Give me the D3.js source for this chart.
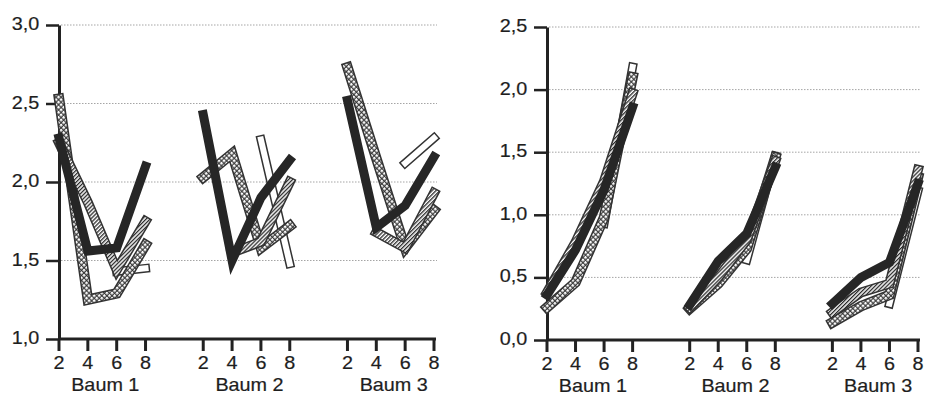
<!DOCTYPE html>
<html>
<head>
<meta charset="utf-8">
<script src="https://d3js.org/d3.v7.min.js"></script>
<style>
body{margin:0;background:#fff;}
text{font-family:"Liberation Sans",Arial,sans-serif;fill:#1e1e1e;stroke:#1e1e1e;stroke-width:0.2px;}
</style>
</head>
<body>
<div id="chart"></div>
<script>
// categories
var groups = ["Baum 1", "Baum 2", "Baum 3"];
var xValues = [2, 4, 6, 8];

// left panel (3 x 4 values per series, null = not measured)
var leftTicks = [1.0, 1.5, 2.0, 2.5, 3.0];
var leftSolid   = [2.28, 1.56, 1.58, 2.10,  2.43, 1.50, 1.90, 2.14,  2.52, 1.71, 1.85, 2.16];
var leftChecked = [2.53, 1.25, 1.29, 1.60,  2.03, 2.18, 1.58, 1.72,  2.73, 2.15, 1.58, 1.82];
var leftHatched = [2.25, 1.87, 1.44, 1.75,  null, 1.55, 1.62, 2.00,  null, 1.68, 1.58, 1.93];
var leftOpen    = [null, null, 1.43, 1.45,  null, null, 2.27, 1.48,  null, null, 2.12, 2.28];

// right panel
var rightTicks = [0.0, 0.5, 1.0, 1.5, 2.0, 2.5];
var rightSolid   = [0.36, 0.72, 1.20, 1.86,  0.28, 0.63, 0.85, 1.38,  0.29, 0.50, 0.62, 1.25];
var rightChecked = [0.26, 0.46, 0.98, 2.10,  0.25, 0.45, 0.73, 1.46,  0.14, 0.27, 0.36, 1.30];
var rightHatched = [0.38, 0.78, 1.27, 1.97,  0.26, 0.50, 0.80, 1.43,  0.22, 0.38, 0.45, 1.36];
var rightOpen    = [null, null, 0.93, 2.18,  null, null, 0.64, 1.47,  null, null, 0.29, 1.19];

var styles = {
    open:    {outer: 9,    inner: 6,   fill: "#fff"},
    checked: {outer: 10.5, inner: 7.5, fill: "url(#checks)"},
    hatched: {outer: 10,   inner: 7,   fill: "url(#hatch)"},
    solid:   {outer: 9,    inner: 0,   fill: null}
};

function start(){
    var svg = d3.select("#chart").append("svg")
                .attr("width", 929)
                .attr("height", 407);
    svg.append("rect").attr("width", 929).attr("height", 407).attr("fill", "#fff");
    makePatterns(svg);

    plot(svg, {
        xRange: [59, 434], yDomain: [1, 3], yRange: [339, 25], ticks: leftTicks,
        series: [["open", leftOpen], ["checked", leftChecked], ["hatched", leftHatched], ["solid", leftSolid]]
    });
    plot(svg, {
        xRange: [547, 918], yDomain: [0, 2.5], yRange: [340, 27], ticks: rightTicks,
        series: [["open", rightOpen], ["checked", rightChecked], ["hatched", rightHatched], ["solid", rightSolid]]
    });
}

function makePatterns(svg){
    var defs = svg.append("defs");
    var p = defs.append("pattern")
                .attr("id", "checks")
                .attr("patternUnits", "userSpaceOnUse")
                .attr("width", 3.6).attr("height", 3.6)
                .attr("patternTransform", "rotate(45)");
    p.append("rect").attr("width", 3.6).attr("height", 3.6).attr("fill", "#2e2e2e");
    p.append("rect").attr("x", 0.8).attr("y", 0.8).attr("width", 2.5).attr("height", 2.5).attr("fill", "#fcfcfc");

    var h = defs.append("pattern")
                .attr("id", "hatch")
                .attr("patternUnits", "userSpaceOnUse")
                .attr("width", 2.8).attr("height", 2.8)
                .attr("patternTransform", "rotate(45)");
    h.append("rect").attr("width", 2.8).attr("height", 2.8).attr("fill", "#fff");
    h.append("rect").attr("width", 1.3).attr("height", 2.8).attr("fill", "#2a2a2a");
}

function plot(svg, cfg){
    // category keys, with one empty slot between trees
    var keys = [];
    groups.forEach(function(g, gi){
        xValues.forEach(function(v){ keys.push(gi + "-" + v); });
        if (gi < groups.length - 1) keys.push("gap" + gi);
    });

    var x = d3.scalePoint().domain(keys).range(cfg.xRange);
    var y = d3.scaleLinear().domain(cfg.yDomain).range(cfg.yRange);
    var x0 = cfg.xRange[0], x1 = cfg.xRange[1];
    var axisY = y(cfg.yDomain[0]);

    // dotted grid
    svg.append("g")
       .selectAll("line")
       .data(cfg.ticks.slice(1))
       .enter().append("line")
       .attr("x1", x0 + 2).attr("x2", x1 + 3)
       .attr("y1", d => y(d)).attr("y2", d => y(d))
       .attr("stroke", "#a5a5a5")
       .attr("stroke-width", 1)
       .attr("stroke-dasharray", "1.5,1.5");

    // y axis
    var ya = svg.append("g")
       .attr("transform", "translate(" + x0 + ",0)")
       .call(d3.axisLeft(y)
               .tickValues(cfg.ticks)
               .tickSize(13)
               .tickSizeOuter(0)
               .tickPadding(5)
               .tickFormat(d => d3.format(".1f")(d).replace(".", ",")));
    ya.select(".domain").attr("stroke", "#222").attr("stroke-width", 3);
    ya.selectAll(".tick line").attr("stroke", "#222").attr("stroke-width", 2.5);
    ya.selectAll("text")
      .attr("fill", null)
      .attr("dy", "0.25em")
      .style("font-size", "18px")
      .attr("transform", "scale(1.1,1)");

    // x axis line + ticks
    svg.append("line")
       .attr("x1", x0 - 1).attr("x2", x1 + 2)
       .attr("y1", axisY).attr("y2", axisY)
       .attr("stroke", "#222").attr("stroke-width", 3);

    var realKeys = keys.filter(k => k.indexOf("gap") < 0);
    svg.append("g")
       .selectAll("line")
       .data(realKeys)
       .enter().append("line")
       .attr("x1", d => x(d)).attr("x2", d => x(d))
       .attr("y1", axisY).attr("y2", axisY + 12)
       .attr("stroke", "#222").attr("stroke-width", 3);

    svg.append("g")
       .selectAll("text")
       .data(realKeys)
       .enter().append("text")
       .attr("text-anchor", "middle")
       .attr("transform", d => "translate(" + x(d) + "," + (axisY + 30) + ") scale(1.1,1)")
       .style("font-size", "18px")
       .text(d => d.split("-")[1]);

    svg.append("g")
       .selectAll("text")
       .data(groups)
       .enter().append("text")
       .attr("text-anchor", "middle")
       .attr("transform", function(d, gi){
           var cx = (x(gi + "-4") + x(gi + "-6")) / 2 + 3;
           return "translate(" + cx + "," + (axisY + 52) + ") scale(1.1,1)";
       })
       .style("font-size", "18px")
       .text(d => d);

    // ribbons
    var line = d3.line()
                 .defined(d => d.v != null)
                 .x(d => x(d.k))
                 .y(d => y(d.v));

    cfg.series.forEach(function(s){
        var st = styles[s[0]];
        var pts = keys.map(function(k){
            if (k.indexOf("gap") == 0) return {k: k, v: null};
            var gi = +k.split("-")[0];
            var xi = xValues.indexOf(+k.split("-")[1]);
            return {k: k, v: s[1][gi * 4 + xi]};
        });
        var g = svg.append("g");
        g.append("path")
         .attr("d", line(pts))
         .attr("fill", "none")
         .attr("stroke", s[0] == "solid" ? "#262626" : "#333")
         .attr("stroke-width", st.outer)
         .attr("stroke-linejoin", "miter")
         .attr("stroke-linecap", "square");
        if (st.fill){
            g.append("path")
             .attr("d", line(pts))
             .attr("fill", "none")
             .attr("stroke", st.fill)
             .attr("stroke-width", st.inner)
             .attr("stroke-linejoin", "miter")
             .attr("stroke-linecap", "square");
        }
    });
}

start()
</script>
</body>
</html>
